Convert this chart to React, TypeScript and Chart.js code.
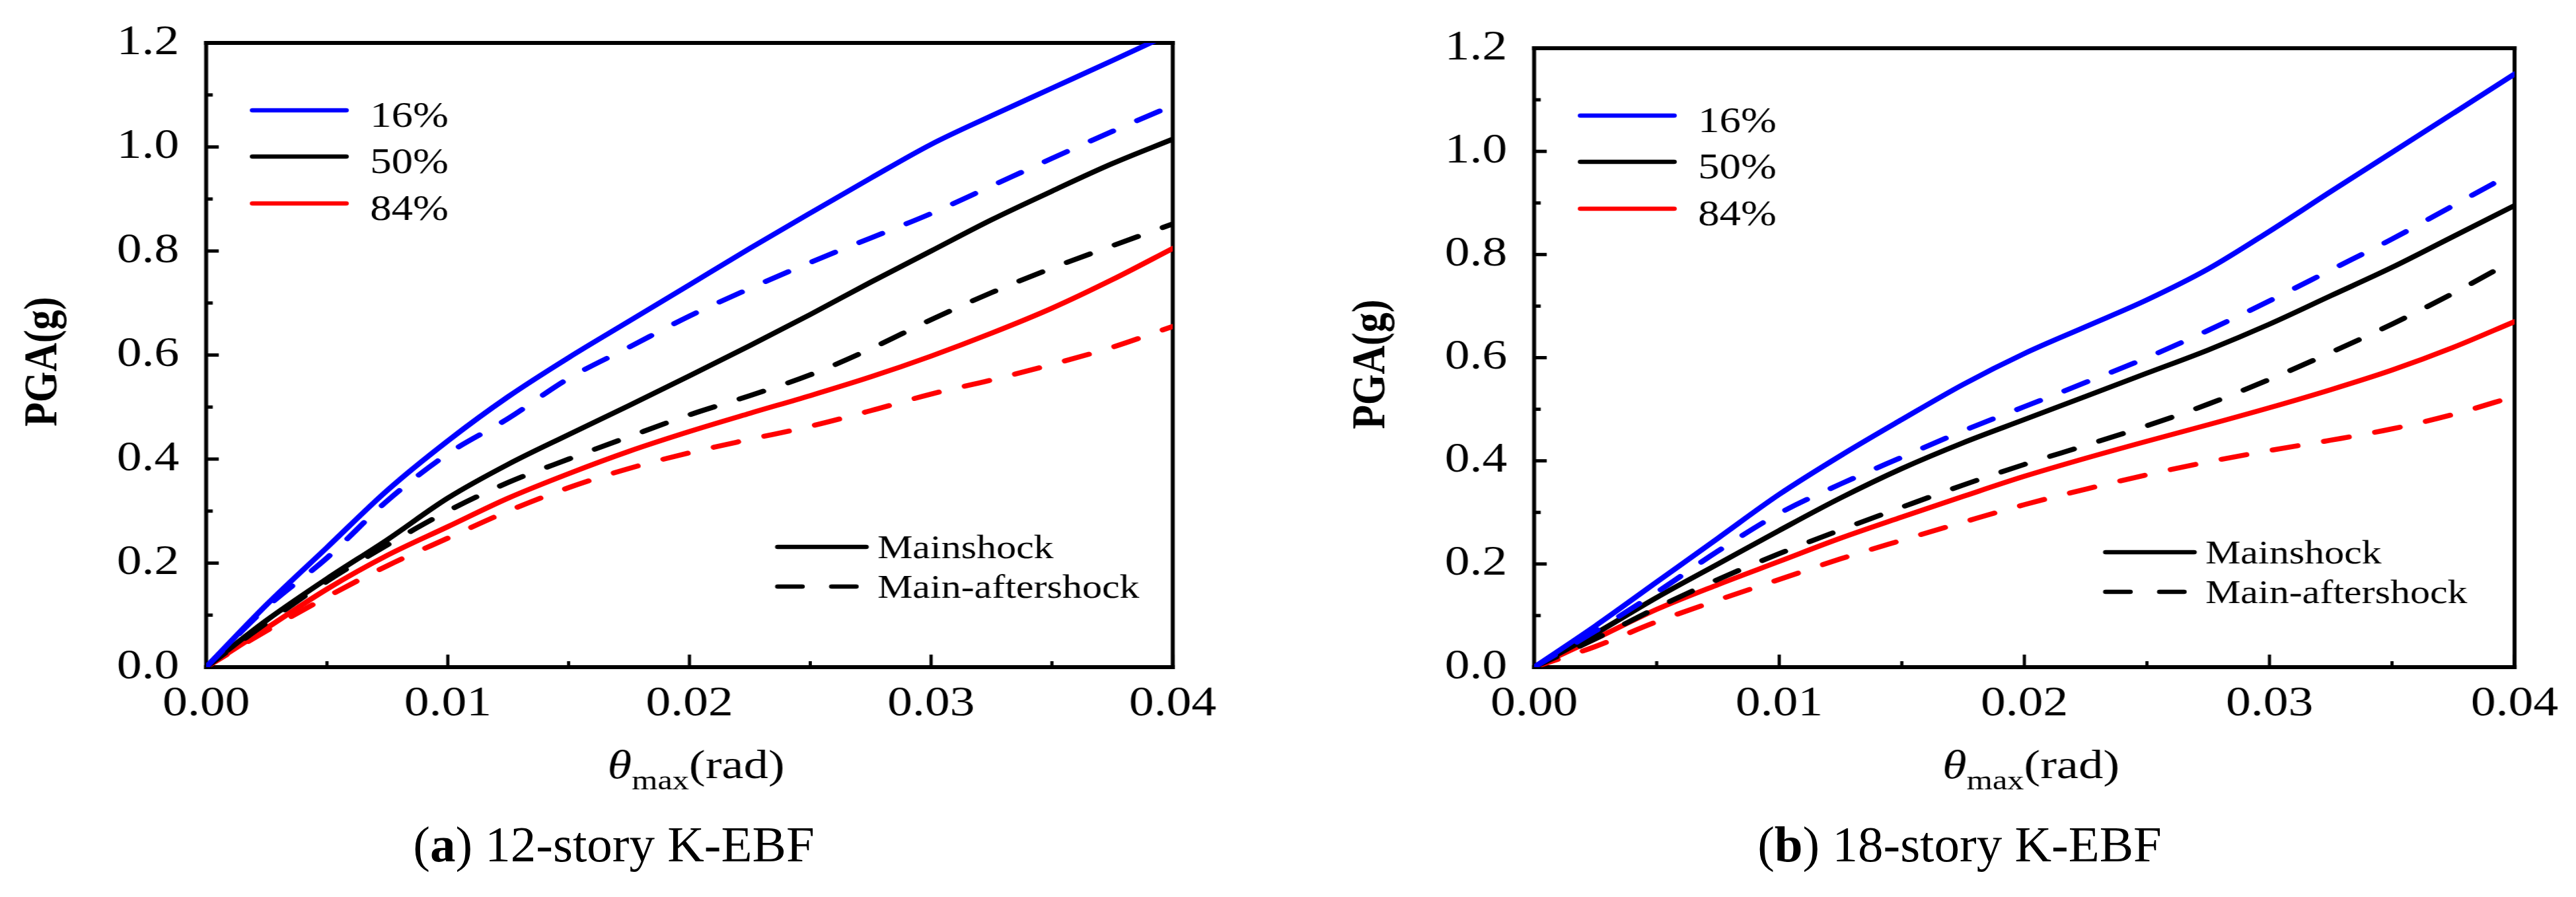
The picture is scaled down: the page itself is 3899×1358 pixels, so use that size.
import React, { useEffect, useRef } from "react";
import { Chart, registerables } from "chart.js";

Chart.register(...registerables);

const FONT = "'Liberation Serif', 'Times New Roman', serif";
// the chart text in the figure is stretched sideways, so each chart is drawn narrow and widened by CSS
const K = 1.2;

// maximum inter-story drift (rad)
const drift = [
  0, 0.0025, 0.005, 0.0075, 0.01, 0.0125, 0.015, 0.0175, 0.02, 0.0225, 0.025,
  0.0275, 0.03, 0.0325, 0.035, 0.0375, 0.04,
];

// (a) 12-story K-EBF, PGA (g)
const s12Main16 = [0, 0.12, 0.23, 0.34, 0.435, 0.52, 0.595, 0.665, 0.735, 0.805, 0.873, 0.94, 1.005, 1.06, 1.113, 1.166, 1.22];
const s12After16 = [0, 0.115, 0.21, 0.32, 0.41, 0.478, 0.555, 0.615, 0.675, 0.728, 0.778, 0.825, 0.872, 0.925, 0.978, 1.03, 1.08];
const s12Main50 = [0, 0.09, 0.17, 0.245, 0.325, 0.39, 0.447, 0.503, 0.56, 0.618, 0.678, 0.74, 0.8, 0.86, 0.915, 0.968, 1.015];
const s12After50 = [0, 0.085, 0.165, 0.235, 0.3, 0.355, 0.4, 0.443, 0.485, 0.522, 0.562, 0.612, 0.668, 0.72, 0.767, 0.81, 0.852];
const s12Main84 = [0, 0.075, 0.15, 0.215, 0.27, 0.325, 0.372, 0.415, 0.453, 0.488, 0.522, 0.558, 0.598, 0.642, 0.69, 0.745, 0.805];
const s12After84 = [0, 0.07, 0.135, 0.195, 0.248, 0.3, 0.345, 0.382, 0.412, 0.438, 0.463, 0.493, 0.525, 0.552, 0.582, 0.615, 0.655];

// (b) 18-story K-EBF, PGA (g)
const s18Main16 = [0, 0.08, 0.165, 0.25, 0.335, 0.41, 0.48, 0.548, 0.608, 0.66, 0.712, 0.772, 0.845, 0.922, 0.998, 1.074, 1.15];
const s18After16 = [0, 0.07, 0.145, 0.225, 0.298, 0.355, 0.407, 0.458, 0.505, 0.552, 0.6, 0.653, 0.71, 0.77, 0.83, 0.895, 0.96];
const s18Main50 = [0, 0.065, 0.135, 0.2, 0.265, 0.328, 0.385, 0.435, 0.48, 0.525, 0.57, 0.615, 0.665, 0.72, 0.775, 0.835, 0.895];
const s18After50 = [0, 0.055, 0.115, 0.17, 0.22, 0.266, 0.31, 0.353, 0.393, 0.43, 0.468, 0.51, 0.558, 0.61, 0.665, 0.725, 0.79];
const s18Main84 = [0, 0.055, 0.112, 0.16, 0.205, 0.25, 0.291, 0.331, 0.37, 0.405, 0.438, 0.47, 0.503, 0.538, 0.576, 0.62, 0.67];
const s18After84 = [0, 0.04, 0.088, 0.13, 0.17, 0.21, 0.246, 0.281, 0.315, 0.345, 0.373, 0.398, 0.42, 0.44, 0.462, 0.49, 0.525];

const levelLabels = ["16%", "50%", "84%"];
const levelColors = ["#0000ff", "#000000", "#ff0000"];
const recordLabels = ["Mainshock", "Main-aftershock"];

const xTicks = [0, 0.01, 0.02, 0.03, 0.04];
const yTicks = [0, 0.2, 0.4, 0.6, 0.8, 1.0, 1.2];

const DASH = [32, 34];

type Panel = {
  id: string;
  tag: string;
  caption: string;
  main: number[][];
  after: number[][];
  left: number; // css px
  width: number;
  plotL: number;
  plotR: number;
  plotT: number;
  plotB: number;
  captionX: number;
};

const H = 1230;

const panels: Panel[] = [
  {
    id: "a",
    tag: "a",
    caption: " 12-story K-EBF",
    main: [s12Main16, s12Main50, s12Main84],
    after: [s12After16, s12After50, s12After84],
    left: 0,
    width: 1900,
    plotL: 312,
    plotR: 1775,
    plotT: 65,
    plotB: 1010,
    captionX: 929,
  },
  {
    id: "b",
    tag: "b",
    caption: " 18-story K-EBF",
    main: [s18Main16, s18Main50, s18Main84],
    after: [s18After16, s18After50, s18After84],
    left: 1950,
    width: 1949,
    plotL: 372,
    plotR: 1856,
    plotT: 73,
    plotB: 1010,
    captionX: 2966,
  },
];

const points = (ys: number[]) => drift.map((x, i) => ({ x, y: ys[i] }));

const decorPlugin = {
  id: "decor",
  beforeDatasetsDraw(chart: any) {
    const { ctx, chartArea: a, scales } = chart;
    ctx.save();
    ctx.fillStyle = "#000";
    const w = a.right - a.left;
    const h = a.bottom - a.top;
    ctx.fillRect(a.left - 2.5, a.top - 3, w + 5, 6);
    ctx.fillRect(a.left - 2.5, a.bottom - 3, w + 5, 6);
    ctx.fillRect(a.left - 2.5, a.top - 3, 5, h + 6);
    ctx.fillRect(a.right - 2.5, a.top - 3, 5, h + 6);
    // inward ticks, major + one minor between
    for (let i = 0; i < xTicks.length; i++) {
      const x = scales.x.getPixelForValue(xTicks[i]);
      ctx.fillRect(x - 2, a.bottom - 19, 4, 19);
      if (i < xTicks.length - 1) {
        const xm = scales.x.getPixelForValue((xTicks[i] + xTicks[i + 1]) / 2);
        ctx.fillRect(xm - 2, a.bottom - 9, 4, 9);
      }
    }
    for (let i = 0; i < yTicks.length; i++) {
      const y = scales.y.getPixelForValue(yTicks[i]);
      ctx.fillRect(a.left, y - 2.5, 19 / K, 5);
      if (i < yTicks.length - 1) {
        const ym = scales.y.getPixelForValue((yTicks[i] + yTicks[i + 1]) / 2);
        ctx.fillRect(a.left, ym - 2.5, 10 / K, 5);
      }
    }
    ctx.restore();
  },
  afterDraw(chart: any) {
    const { ctx, chartArea: a } = chart;
    ctx.save();
    ctx.lineCap = "round";
    ctx.lineWidth = 6.5;
    ctx.textBaseline = "alphabetic";
    ctx.fillStyle = "#000";

    // percentile legend, top left
    const rows = [102, 172, 243];
    ctx.font = `54px ${FONT}`;
    levelLabels.forEach((lab, i) => {
      const y = a.top + rows[i];
      ctx.strokeStyle = levelColors[i];
      ctx.beginPath();
      ctx.moveTo(a.left + 70 / K, y);
      ctx.lineTo(a.left + 212 / K, y);
      ctx.stroke();
      ctx.fillText(lab, a.left + 248 / K, y + 25);
    });

    // record type legend, bottom right
    const rows2 = [763, 823];
    ctx.font = `50px ${FONT}`;
    ctx.strokeStyle = "#000";
    recordLabels.forEach((lab, i) => {
      const y = a.top + rows2[i];
      ctx.setLineDash(i === 0 ? [] : [31, 37]);
      ctx.beginPath();
      ctx.moveTo(a.left + 865 / K, y);
      ctx.lineTo(a.left + 999 / K, y);
      ctx.stroke();
      ctx.fillText(lab, a.left + 1016 / K, y + 17);
    });
    ctx.setLineDash([]);

    // x axis title: θ_max(rad)
    const base = a.bottom + 168;
    const cx = (a.left + a.right) / 2 + 10 / K;
    ctx.font = `italic 62px ${FONT}`;
    const w1 = ctx.measureText("θ").width;
    ctx.font = `42px ${FONT}`;
    const w2 = ctx.measureText("max").width;
    ctx.font = `62px ${FONT}`;
    const w3 = ctx.measureText("(rad)").width;
    let x = cx - (w1 + w2 + w3) / 2;
    ctx.font = `italic 62px ${FONT}`;
    ctx.fillText("θ", x, base);
    x += w1;
    ctx.font = `42px ${FONT}`;
    ctx.fillText("max", x, base + 17);
    x += w2;
    ctx.font = `62px ${FONT}`;
    ctx.fillText("(rad)", x, base);

    // y axis title, drawn here so it sits where the figure has it
    ctx.font = `bold 60px ${FONT}`;
    ctx.textAlign = "center";
    ctx.textBaseline = "middle";
    ctx.translate(a.left - 245 / K, (a.top + a.bottom) / 2 + 10);
    ctx.rotate(-Math.PI / 2);
    ctx.fillText("PGA(g)", 0, 0);
    ctx.restore();
  },
};

const FragilityPanel: React.FC<{ p: Panel }> = ({ p }) => {
  const ref = useRef<HTMLCanvasElement | null>(null);
  const W = Math.round(p.width / K);

  useEffect(() => {
    if (!ref.current) return;
    const datasets: any[] = [];
    levelLabels.forEach((lab, i) => {
      datasets.push({
        label: `${lab} ${recordLabels[1]}`,
        data: points(p.after[i]),
        borderColor: levelColors[i],
        borderDash: DASH,
        borderCapStyle: "round",
      });
    });
    levelLabels.forEach((lab, i) => {
      datasets.push({
        label: `${lab} ${recordLabels[0]}`,
        data: points(p.main[i]),
        borderColor: levelColors[i],
        borderCapStyle: "round",
      });
    });

    const chart = new Chart(ref.current, {
      type: "line",
      data: { datasets },
      options: {
        animation: false,
        responsive: false,
        devicePixelRatio: 1,
        layout: {
          padding: { top: p.plotT, right: W - p.plotR / K, left: 0, bottom: 0 },
        },
        plugins: { legend: { display: false }, tooltip: { enabled: false } },
        elements: {
          point: { radius: 0 },
          line: { borderWidth: 7.5, cubicInterpolationMode: "monotone", fill: false },
        },
        scales: {
          x: {
            type: "linear",
            min: 0,
            max: 0.04,
            grid: { display: false },
            border: { display: false },
            afterBuildTicks: (s: any) => {
              s.ticks = xTicks.map((value) => ({ value }));
            },
            afterFit: (s: any) => {
              s.height = H - p.plotB;
            },
            ticks: {
              padding: 11,
              maxRotation: 0,
              autoSkip: false,
              color: "#000",
              font: { family: FONT, size: 63 },
              callback: (v: any) => Number(v).toFixed(2),
            },
          },
          y: {
            type: "linear",
            min: 0,
            max: 1.2,
            grid: { display: false },
            border: { display: false },
            afterBuildTicks: (s: any) => {
              s.ticks = yTicks.map((value) => ({ value }));
            },
            afterFit: (s: any) => {
              s.width = p.plotL / K;
            },
            ticks: {
              padding: 26,
              color: "#000",
              font: { family: FONT, size: 63 },
              callback: (v: any) => Number(v).toFixed(1),
            },
          },
        },
      } as any,
      plugins: [decorPlugin],
    });
    return () => chart.destroy();
  }, [p, W]);

  return (
    <>
      <div
        style={{
          position: "absolute",
          left: p.left,
          top: 0,
          width: W,
          height: H,
          transform: `scaleX(${K})`,
          transformOrigin: "0 0",
        }}
      >
        <canvas ref={ref} width={W} height={H} style={{ width: W, height: H, display: "block" }} />
      </div>
      <div
        style={{
          position: "absolute",
          left: p.captionX,
          top: 1240,
          transform: "translateX(-50%)",
          fontFamily: FONT,
          fontSize: 77,
          lineHeight: 1,
          whiteSpace: "pre",
          color: "#000",
        }}
      >
        (<b>{p.tag}</b>){p.caption}
      </div>
    </>
  );
};

const App: React.FC = () => (
  <div
    style={{
      position: "absolute",
      left: 0,
      top: 0,
      width: 3899,
      height: 1358,
      background: "#fff",
      overflow: "hidden",
    }}
  >
    {panels.map((p) => (
      <FragilityPanel key={p.id} p={p} />
    ))}
  </div>
);

export default App;
